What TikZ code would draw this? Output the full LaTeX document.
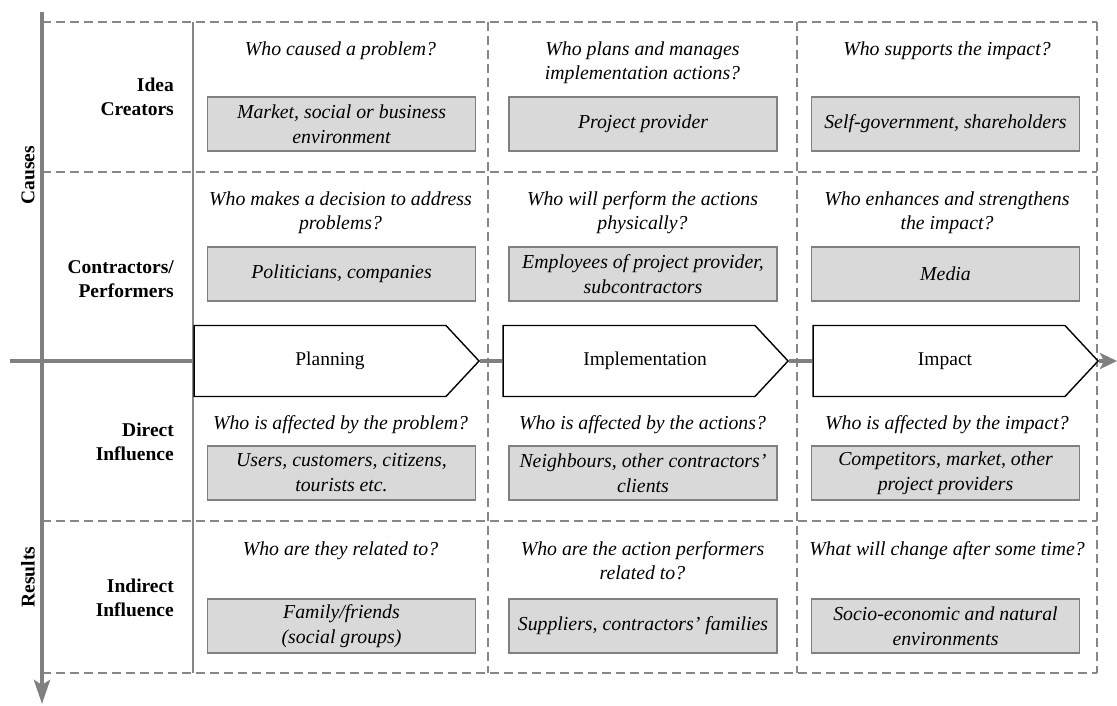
\documentclass[tikz,border=0pt]{standalone}
\usepackage{fontspec}
\setmainfont{Liberation Serif}
\usetikzlibrary{arrows.meta,shapes.symbols}
\definecolor{axisgray}{RGB}{128,128,128}
\definecolor{linegray}{RGB}{135,135,135}
\definecolor{boxfill}{RGB}{217,217,217}
\begin{document}
\begin{tikzpicture}[x=1pt,y=-1pt,
  font=\fontsize{19.5}{24}\selectfont,
  grid/.style={draw=linegray, line width=1.5pt, dash pattern=on 9pt off 5pt},
  colline/.style={draw=linegray, line width=1.5pt},
  axis/.style={draw=axisgray, line width=4.5pt},
  who/.style={font=\fontsize{19.8}{24}\selectfont\itshape, align=center, anchor=base, inner sep=0pt},
  ans/.style={draw=axisgray, fill=boxfill, line width=1.4pt, minimum width=268pt, minimum height=54pt, align=center, font=\fontsize{19.8}{25}\selectfont\itshape, inner sep=0pt},
  rowlab/.style={font=\fontsize{19.5}{23.5}\selectfont\bfseries, align=right, anchor=east, inner sep=0pt},
  stage/.style={shape=signal, signal to=east, signal from=nowhere, signal pointer angle=94, draw=black, fill=white, line width=1.4pt, minimum width=285pt, minimum height=71pt, inner sep=0pt}
]
\useasboundingbox (0,0) rectangle (1117,705);

% grid
\draw[grid] (42,22) -- (1097,22);
\draw[grid] (42,172) -- (1097,172);
\draw[grid] (42,521) -- (1097,521);
\draw[grid] (42,673) -- (1097,673);
\draw[grid] (488,22) -- (488,673);
\draw[grid] (797,22) -- (797,673);
\draw[grid] (1097,22) -- (1097,673);
\draw[colline] (193,22) -- (193,673);

% vertical axis
\coordinate (vtop) at (42,12);
\coordinate (vbot) at (42,704);
\draw[axis, -{Stealth[length=24pt,width=16pt,inset=5pt]}] (vtop) -- (vbot);

% stages
\node[stage] (plan) at (320,361) {\hspace*{20pt}Planning};
\node[stage] (impl) at (629,361) {\hspace*{32pt}Implementation};
\node[stage] (imp) at (939,361) {\hspace*{12pt}Impact};

\coordinate (hstart) at (10,361);
\coordinate (hend) at (1117,361);
\draw[axis] (hstart) -- (plan.west);
\draw[axis] (plan.east) -- (impl.west);
\draw[axis] (impl.east) -- (imp.west);
\draw[axis, -{Stealth[length=17pt,width=16pt,inset=4pt]}] (imp.east) -- (hend);

% side labels
\node[font=\fontsize{19.5}{24}\selectfont\bfseries, rotate=90] (causes) at (28,175) {Causes};
\node[font=\fontsize{19.5}{24}\selectfont\bfseries, rotate=90] (results) at (28,577) {Results};

\node[rowlab] (r1) at (174,97) {Idea\\Creators};
\node[rowlab] (r2) at (174,279) {Contractors/\\Performers};
\node[rowlab] (r3) at (174,442) {Direct\\Influence};
\node[rowlab] (r4) at (174,598) {Indirect\\Influence};

% row 1
\node[who] (q11) at (340.5,55) {Who caused a problem?};
\node[who] (q12) at (642.5,79) {Who plans and manages\\implementation actions?};
\node[who] (q13) at (947,55) {Who supports the impact?};
\node[ans] (b11) at (341.5,124) {Market, social or business\\environment};
\node[ans] (b12) at (643,124) {Project provider};
\node[ans] (b13) at (945.5,124) {Self-government, shareholders};

% row 2
\node[who] (q21) at (340.5,229) {Who makes a decision to address\\problems?};
\node[who] (q22) at (642.5,229) {Who will perform the actions\\physically?};
\node[who] (q23) at (947,229) {Who enhances and strengthens\\the impact?};
\node[ans] (b21) at (341.5,274) {Politicians, companies};
\node[ans] (b22) at (643,274) {Employees of project provider,\\subcontractors};
\node[ans] (b23) at (945.5,274) {Media};

% row 3
\node[who] (q31) at (340.5,429) {Who is affected by the problem?};
\node[who] (q32) at (642.5,429) {Who is affected by the actions?};
\node[who] (q33) at (947,429) {Who is affected by the impact?};
\node[ans] (b31) at (341.5,473) {Users, customers, citizens,\\tourists etc.};
\node[ans] (b32) at (643,473) {Neighbours, other contractors’\\clients};
\node[ans] (b33) at (945.5,473) {Competitors, market, other\\project providers};

% row 4
\node[who] (q41) at (340.5,555) {Who are they related to?};
\node[who] (q42) at (642.5,579) {Who are the action performers\\related to?};
\node[who] (q43) at (947,555) {What will change after some time?};
\node[ans] (b41) at (341.5,626) {Family/friends\\(social groups)};
\node[ans] (b42) at (643,626) {Suppliers, contractors’ families};
\node[ans] (b43) at (945.5,626) {Socio-economic and natural\\environments};
\end{tikzpicture}
\end{document}
